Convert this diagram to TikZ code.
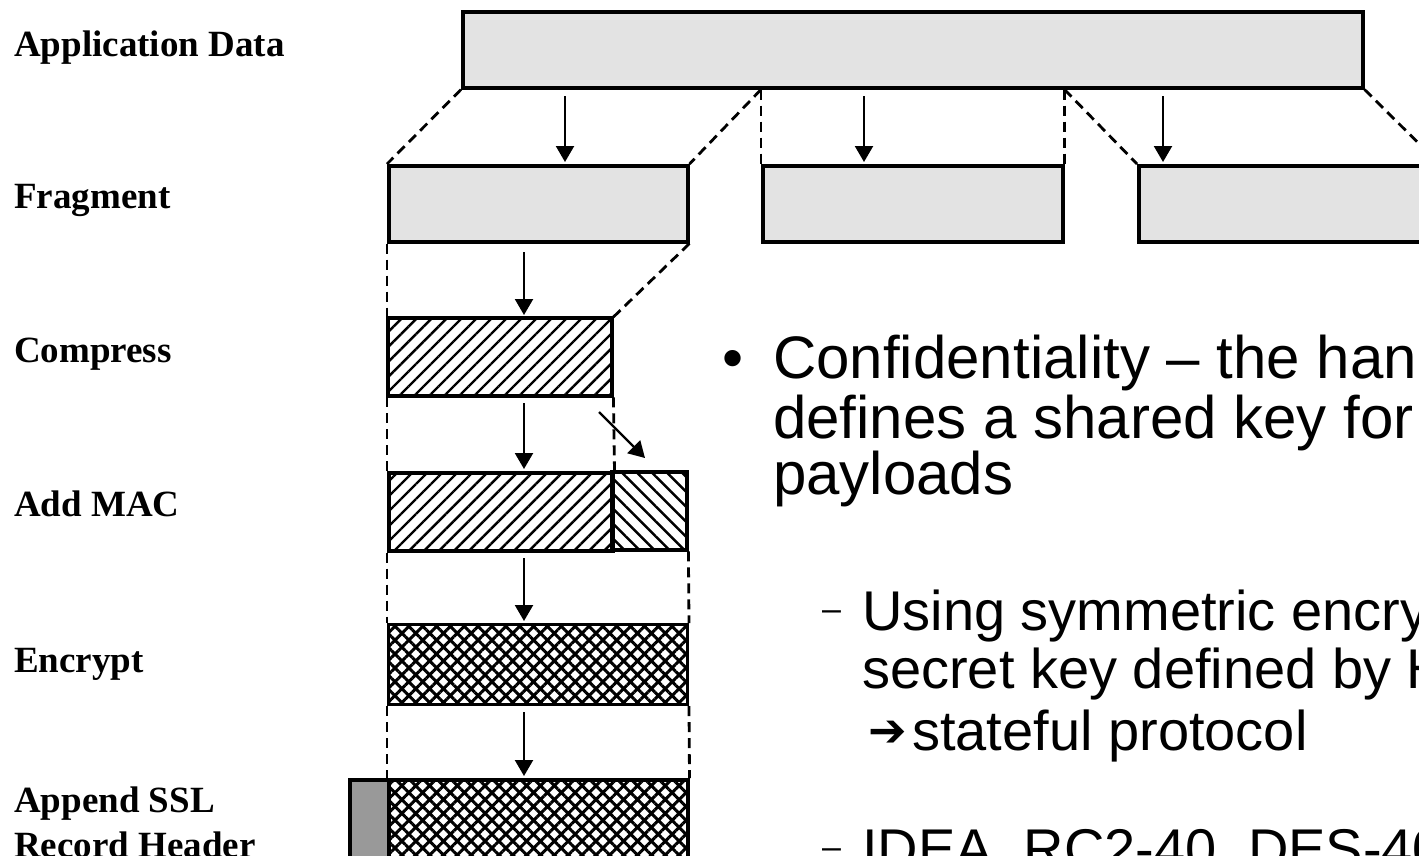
\documentclass[tikz,border=0pt]{standalone}
\usepackage{fontspec}
\setmainfont{Liberation Serif}
\newfontfamily\arialfont{Liberation Sans}
\newfontfamily\symfont{DejaVu Sans Bold}
\usetikzlibrary{patterns.meta,arrows.meta}
\definecolor{boxgray}{RGB}{227,227,227}
\definecolor{hdrgray}{RGB}{153,153,153}
\begin{document}
\begin{tikzpicture}[x=1pt,y=-1pt,
  lbl/.style={anchor=base west, inner sep=0pt, font=\fontsize{37}{43}\selectfont\bfseries},
  big/.style={anchor=base west, inner sep=0pt, font=\arialfont\fontsize{60}{60}\selectfont},
  small/.style={anchor=base west, inner sep=0pt, font=\arialfont\fontsize{56}{56}\selectfont},
  subdash/.style={anchor=base west, inner sep=0pt, font=\arialfont\fontsize{34}{34}\selectfont},
  blk/.style={anchor=north west, inner sep=0pt, line width=3.5pt, draw=black},
  gbox/.style={blk, fill=boxgray},
  fwd/.style={blk, pattern={Lines[angle=45,distance=10.6pt,line width=2.4pt]}},
  bwd/.style={blk, pattern={Lines[angle=-45,distance=10.6pt,line width=2.4pt]}},
  cross/.style={blk, pattern={Hatch[angle=45,distance=9.8pt,line width=3pt]}},
  dline/.style={line width=2.8pt, dash pattern=on 10pt off 6pt},
  arr/.style={line width=2.2pt, -{Triangle[length=16pt,width=18pt]}}
]
\clip (0,0) rectangle (1419,855);
\fill[white] (0,0) rectangle (1419,855);

% labels
\node[lbl] (lapp) at (14,56) {Application Data};
\node[lbl] (lfrag) at (14,208) {Fragment};
\node[lbl] (lcomp) at (14,362) {Compress};
\node[lbl] (lmac) at (14,516) {Add MAC};
\node[lbl] (lenc) at (14,672) {Encrypt};
\node[lbl] (lapp1) at (14,812) {Append SSL};
\node[lbl] (lapp2) at (14,857) {Record Header};

% boxes
\node[gbox, minimum width=900pt, minimum height=76pt] (app) at (461,10) {};
\node[gbox, minimum width=299pt, minimum height=76pt] (f1) at (387,164) {};
\node[gbox, minimum width=300pt, minimum height=76pt] (f2) at (761,164) {};
\node[gbox, minimum width=299pt, minimum height=76pt] (f3) at (1137,164) {};
\node[fwd, minimum width=224pt, minimum height=78pt] (comp) at (387,317) {};
\node[fwd, minimum width=224pt, minimum height=78pt] (mac1) at (387,471) {};
\node[bwd, minimum width=75pt, minimum height=78pt] (mac2) at (611,471) {};
\node[cross, minimum width=299pt, minimum height=80pt] (enc) at (387,623) {};
\node[blk, fill=hdrgray, minimum width=39pt, minimum height=100pt] (hdr) at (348,778) {};
\node[cross, minimum width=299pt, minimum height=100pt] (rec) at (387,778) {};

% dashed guide lines
\draw[dline] (app.south west) -- (f1.north west);
\draw[dline] (f2.north west |- app.south) -- (f1.north east);
\draw[dline] (f2.north west |- app.south) -- (f2.north west);
\draw[dline] (f2.north east |- app.south) -- (f2.north east);
\draw[dline] (f2.north east |- app.south) -- (f3.north west);
\draw[dline] (app.south east) -- (f3.north east);
\draw[dline] (f1.south west) -- (comp.north west);
\draw[dline] (f1.south east) -- (comp.north east);
\draw[dline] (comp.south west) -- (mac1.north west);
\draw[dline] (comp.south east) -- (mac1.north east);
\draw[dline] (mac1.south west) -- (enc.north west);
\draw[dline] (mac2.south east) -- (enc.north east);
\draw[dline] (enc.south west) -- (rec.north west);
\draw[dline] (enc.south east) -- (rec.north east);

% arrows
\coordinate (t1) at (565,96);
\coordinate (t2) at (864,96);
\coordinate (t3) at (1163,96);
\draw[arr] (t1) -- ([yshift=2pt]t1 |- f1.north);
\draw[arr] (t2) -- ([yshift=2pt]t2 |- f2.north);
\draw[arr] (t3) -- ([yshift=2pt]t3 |- f3.north);
\coordinate (d1) at (524,252);
\coordinate (d2) at (524,403);
\coordinate (d3) at (524,558);
\coordinate (d4) at (524,712);
\draw[arr] (d1) -- ([yshift=2pt]d1 |- comp.north);
\draw[arr] (d2) -- ([yshift=2pt]d2 |- mac1.north);
\draw[arr] (d3) -- ([yshift=2pt]d3 |- enc.north);
\draw[arr] (d4) -- ([yshift=2pt]d4 |- rec.north);
\coordinate (m1) at (599,412);
\coordinate (m2) at (645,458);
\draw[arr] (m1) -- (m2);

% right text
\node[big] (bul) at (722,378) {•};
\node[big] (c1) at (773,378) {Confidentiality – the han};
\node[big] (c2) at (773,438) {defines a shared key for};
\node[big] (c3) at (773,494) {payloads};
\node[subdash] (s1d) at (822,620) {–};
\node[small] (s1) at (862,630) {Using symmetric encry};
\node[small] (s2) at (862,688) {secret key defined by H};
\node[small, font=\symfont\fontsize{46}{46}\selectfont] (s3a) at (868,746) {➔};
\node[small] (s3) at (912,750) {stateful protocol};
\node[subdash] (s4d) at (822,858) {–};
\node[small] (s4) at (862,868) {IDEA, RC2-40, DES-40};
\end{tikzpicture}
\end{document}
